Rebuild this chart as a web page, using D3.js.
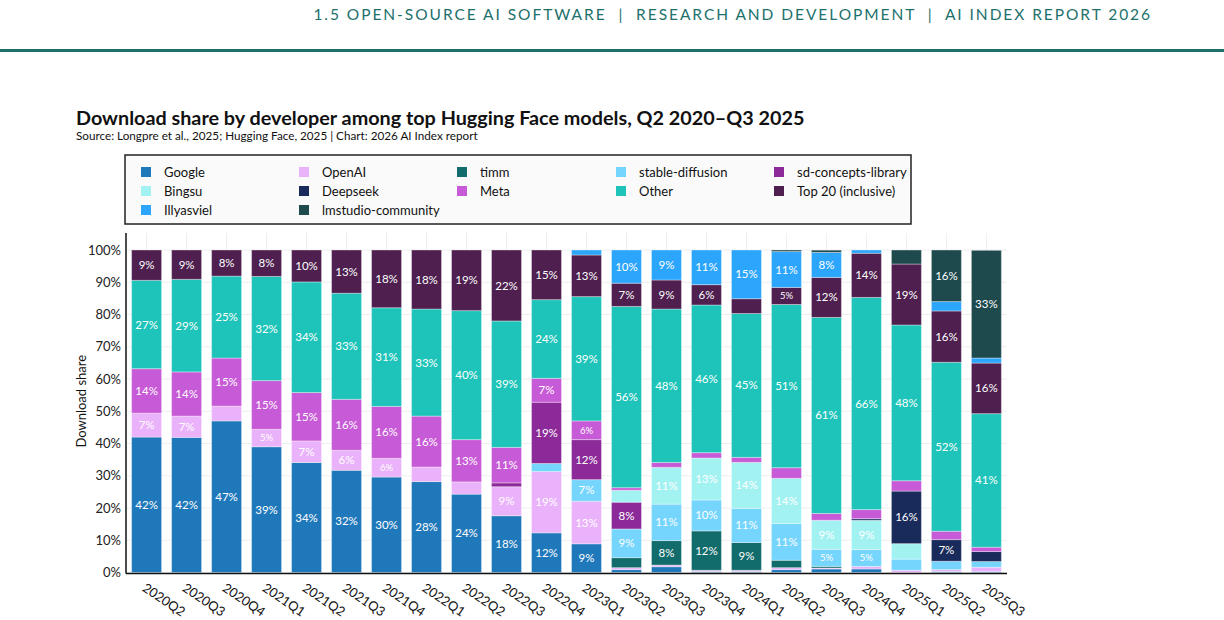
<!DOCTYPE html>
<html>
<head>
<meta charset="utf-8">
<script src="https://cdn.jsdelivr.net/npm/d3@7"></script>
<style>
  body { margin: 0; background: #fff; }
  svg { display: block; font-family: Lato, "Noto Sans", sans-serif; }
</style>
</head>
<body>
<svg id="chart"></svg>
<script>
// quarters on the x axis
const quarters = ["2020Q2", "2020Q3", "2020Q4", "2021Q1", "2021Q2", "2021Q3", "2021Q4",
  "2022Q1", "2022Q2", "2022Q3", "2022Q4", "2023Q1", "2023Q2", "2023Q3", "2023Q4",
  "2024Q1", "2024Q2", "2024Q3", "2024Q4", "2025Q1", "2025Q2", "2025Q3"];

// download share (%) per developer
const google     = [42.0, 41.9, 47.0, 39.0, 34.1, 31.7, 29.6, 28.2, 24.3, 17.6, 12.3, 8.9, 0.9, 1.8, 0.3, 0.3, 0.9, 1.1, 1.1, 0, 0.3, 0.3];
const openai     = [7.4, 6.6, 4.6, 5.4, 6.7, 6.2, 5.8, 4.5, 3.8, 9.0, 19.0, 13.2, 0.6, 0.5, 0.4, 0.4, 0.6, 0.3, 0.8, 0.7, 0.6, 1.35];
const timm       = [0, 0, 0, 0, 0, 0, 0, 0, 0, 0, 0, 0, 3.1, 7.6, 12.2, 8.6, 2.3, 0.5, 0, 0, 0, 0];
const stableDiff = [0, 0, 0, 0, 0, 0, 0, 0, 0, 0, 2.5, 6.7, 8.9, 11.3, 9.6, 10.6, 11.4, 5.3, 5.2, 3.45, 2.6, 1.75];
const sdConcepts = [0, 0, 0, 0, 0, 0, 0, 0, 0, 1.2, 19.0, 12.4, 8.3, 0, 0, 0, 0, 0, 0, 0, 0, 0];
const bingsu     = [0, 0, 0, 0, 0, 0, 0, 0, 0, 0, 0, 0, 3.7, 11.4, 13.0, 14.25, 14.0, 9.0, 9.1, 4.8, 0, 0];
const deepseek   = [0, 0, 0, 0, 0, 0, 0, 0, 0, 0, 0, 0, 0, 0, 0, 0, 0, 0, 0.5, 16.3, 6.7, 3.1];
const meta       = [13.8, 13.7, 14.9, 15.1, 15.0, 15.8, 16.1, 15.8, 13.1, 11.0, 7.4, 5.8, 0.8, 1.5, 1.65, 1.55, 3.3, 2.1, 2.8, 3.2, 2.6, 1.35];
const other      = [27.4, 28.7, 25.4, 32.3, 34.3, 32.9, 30.6, 33.2, 40.0, 39.2, 24.4, 38.55, 56.2, 47.6, 45.8, 44.6, 50.6, 60.8, 65.8, 48.3, 52.4, 41.4];
const top20      = [9.4, 9.1, 8.1, 8.2, 9.9, 13.4, 17.9, 18.3, 18.8, 22.0, 15.4, 12.9, 7.2, 9.0, 6.3, 4.6, 5.3, 12.4, 13.7, 18.9, 15.9, 15.7];
const illyasviel = [0, 0, 0, 0, 0, 0, 0, 0, 0, 0, 0, 1.55, 10.3, 9.3, 10.75, 15.1, 11.1, 7.75, 1.0, 0, 2.9, 1.55];
const lmstudio   = [0, 0, 0, 0, 0, 0, 0, 0, 0, 0, 0, 0, 0, 0, 0, 0, 0.5, 0.7, 0, 4.35, 16.0, 33.4];

const yTicks = [0, 10, 20, 30, 40, 50, 60, 70, 80, 90, 100];

// stack order, bottom to top (also legend order)
const developers = [
  { key: "Google", values: google, color: "#1f78ba" },
  { key: "OpenAI", values: openai, color: "#eab2fa" },
  { key: "timm", values: timm, color: "#136c6c" },
  { key: "stable-diffusion", values: stableDiff, color: "#76d5fd" },
  { key: "sd-concepts-library", values: sdConcepts, color: "#8b2a98" },
  { key: "Bingsu", values: bingsu, color: "#a3f2f2" },
  { key: "Deepseek", values: deepseek, color: "#192b5a" },
  { key: "Meta", values: meta, color: "#c75ad6" },
  { key: "Other", values: other, color: "#1ec4b9" },
  { key: "Top 20 (inclusive)", values: top20, color: "#4e1f4f" },
  { key: "Illyasviel", values: illyasviel, color: "#2ca5fd" },
  { key: "lmstudio-community", values: lmstudio, color: "#1e4a4e" }
];

const width = 1224;
const height = 620;
const margin = ({ top: 233, right: 217, bottom: 47, left: 126 });

const table = quarters.map((q, i) => {
  const row = { quarter: q };
  developers.forEach(d => row[d.key] = d.values[i]);
  return row;
});

const stacked = d3.stack().keys(developers.map(d => d.key))(table);
const color = d3.scaleOrdinal(developers.map(d => d.key), developers.map(d => d.color));

const xScale = d3.scaleBand()
  .domain(quarters)
  .range([margin.left, width - margin.right])
  .paddingInner(0.25)
  .paddingOuter(0.14);

const yScale = d3.scaleLinear()
  .domain([0, 100])
  .range([572.5, 250]);

const svg = d3.select("#chart")
  .attr("width", width)
  .attr("height", height)
  .attr("viewBox", [0, 0, width, height]);

// stretch a text's font size so it spans the given width
const fitWidth = (sel, w) => {
  const len = sel.node().getComputedTextLength();
  sel.attr("font-size", +sel.attr("font-size") * w / len);
};

// page header
svg.append("text")
  .attr("x", 1152)
  .attr("y", 20)
  .attr("text-anchor", "end")
  .attr("fill", "#1d706c")
  .attr("font-size", 15.5)
  .attr("letter-spacing", 1.95)
  .attr("xml:space", "preserve")
  .text("1.5 OPEN-SOURCE AI SOFTWARE  |  RESEARCH AND DEVELOPMENT  |  AI INDEX REPORT 2026");

svg.append("rect")
  .attr("x", 0).attr("y", 49)
  .attr("width", width).attr("height", 3)
  .attr("fill", "#1d706c");

// title + source
svg.append("text")
  .attr("x", 76).attr("y", 125)
  .attr("font-size", 18.5)
  .attr("font-weight", 700)
  .attr("fill", "#111")
  .text("Download share by developer among top Hugging Face models, Q2 2020\u2013Q3 2025")
  .call(fitWidth, 729);

svg.append("text")
  .attr("x", 76).attr("y", 140)
  .attr("font-size", 11)
  .attr("fill", "#111")
  .text("Source: Longpre et al., 2025; Hugging Face, 2025 | Chart: 2026 AI Index report")
  .call(fitWidth, 402);

// legend
const legend = svg.append("g");
legend.append("rect")
  .attr("x", 125).attr("y", 155)
  .attr("width", 786).attr("height", 69)
  .attr("fill", "#fafafa")
  .attr("stroke", "#222")
  .attr("stroke-width", 1.5);

const legendCols = [141, 299, 457, 616, 774];
const legendItem = legend.selectAll("g.item")
  .data(developers)
  .join("g")
  .attr("class", "item")
  .attr("transform", (d, i) => `translate(${legendCols[i % 5]},${172 + Math.floor(i / 5) * 19})`);

legendItem.append("rect")
  .attr("x", 0).attr("y", -5)
  .attr("width", 10).attr("height", 10)
  .attr("fill", d => d.color);

legendItem.append("text")
  .attr("x", 23)
  .attr("dy", "0.35em")
  .attr("font-size", 13)
  .attr("fill", "#111")
  .text(d => d.key);

// grid
const grid = svg.append("g");
grid.selectAll("line.h")
  .data(yTicks)
  .join("line")
  .attr("x1", margin.left).attr("x2", width - margin.right)
  .attr("y1", d => yScale(d)).attr("y2", d => yScale(d))
  .attr("stroke", "#eeeeee");

grid.selectAll("line.v")
  .data(quarters)
  .join("line")
  .attr("x1", d => xScale(d) + xScale.bandwidth() / 2)
  .attr("x2", d => xScale(d) + xScale.bandwidth() / 2)
  .attr("y1", margin.top).attr("y2", yScale(0))
  .attr("stroke", "#eeeeee");

// bars
const layers = svg.append("g")
  .selectAll("g")
  .data(stacked)
  .join("g")
  .attr("fill", d => color(d.key));

layers.selectAll("rect")
  .data(d => d.filter(s => s[1] - s[0] > 0))
  .join("rect")
  .attr("x", d => xScale(d.data.quarter))
  .attr("y", d => yScale(d[1]))
  .attr("width", xScale.bandwidth())
  .attr("height", d => yScale(d[0]) - yScale(d[1]))
  .attr("stroke", "rgba(255,255,255,0.35)")
  .attr("stroke-width", 1);

// segment labels
const labels = [];
stacked.forEach(layer => layer.forEach(s => {
  const v = s[1] - s[0];
  if (v >= 5) labels.push({ quarter: s.data.quarter, mid: (s[0] + s[1]) / 2, value: v });
}));

svg.append("g")
  .selectAll("text")
  .data(labels)
  .join("text")
  .attr("x", d => xScale(d.quarter) + xScale.bandwidth() / 2)
  .attr("y", d => yScale(d.mid))
  .attr("dy", "0.35em")
  .attr("text-anchor", "middle")
  .attr("fill", "#fff")
  .attr("font-size", d => d.value < 6 ? 9.5 : 11.5)
  .text(d => d3.format(".0f")(d.value) + "%");

// axes
const yAxis = g => g
  .attr("transform", `translate(${margin.left},0)`)
  .call(d3.axisLeft(yScale).tickValues(yTicks).tickSize(0).tickPadding(5).tickFormat(d => d + "%"))
  .call(g => g.select(".domain").remove())
  .call(g => g.selectAll("text").attr("font-size", 13).attr("fill", "#222").attr("font-family", "Lato, sans-serif"));

svg.append("g").call(yAxis);

svg.append("line")
  .attr("x1", margin.left).attr("x2", margin.left)
  .attr("y1", margin.top).attr("y2", yScale(0) + 1)
  .attr("stroke", "#111").attr("stroke-width", 1.5);

svg.append("line")
  .attr("x1", margin.left).attr("x2", width - margin.right)
  .attr("y1", yScale(0) + 1).attr("y2", yScale(0) + 1)
  .attr("stroke", "#111").attr("stroke-width", 1.5);

svg.append("g")
  .selectAll("text")
  .data(quarters)
  .join("text")
  .attr("transform", d => `translate(${xScale(d) + xScale.bandwidth() / 2},${yScale(0) + 10}) rotate(34)`)
  .attr("dy", "0.71em")
  .attr("font-size", 13)
  .attr("fill", "#111")
  .text(d => d);

svg.append("text")
  .attr("transform", `translate(86,${yScale(50) - 10}) rotate(-90)`)
  .attr("text-anchor", "middle")
  .attr("font-size", 13)
  .attr("fill", "#111")
  .text("Download share");
</script>
</body>
</html>
